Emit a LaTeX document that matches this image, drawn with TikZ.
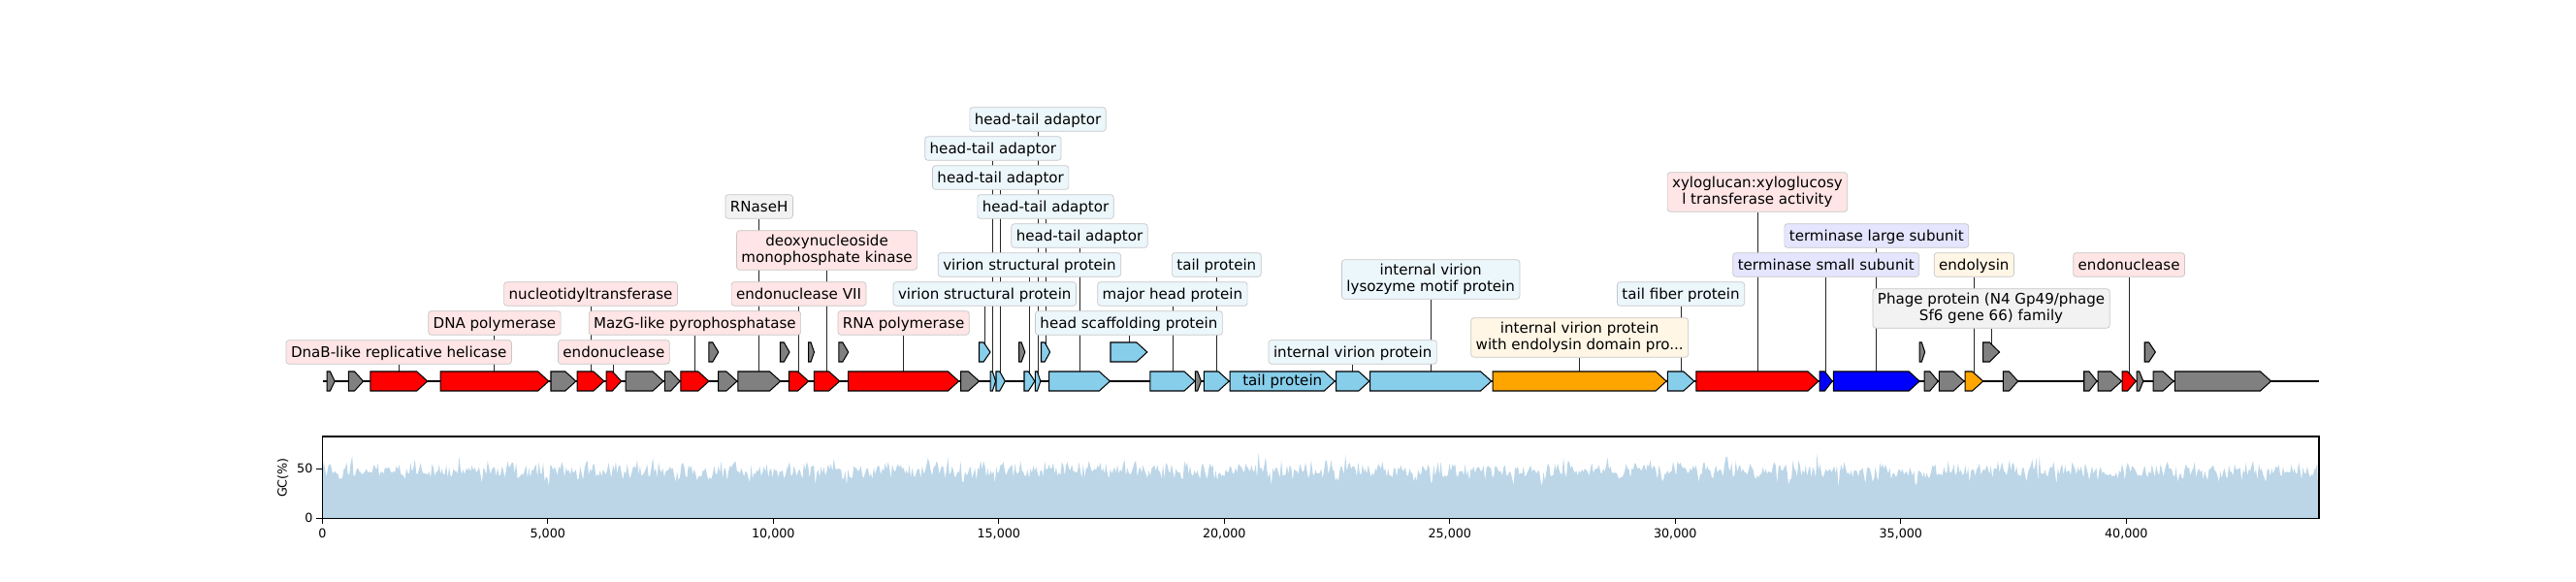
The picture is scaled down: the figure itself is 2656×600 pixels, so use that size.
\documentclass[tikz,border=0pt]{standalone}
\usepackage{fontspec}
\setmainfont{DejaVu Sans}
\usepackage{tikz}
\usetikzlibrary{backgrounds}

\definecolor{genrojo}{RGB}{255,0,0}
\definecolor{gengris}{RGB}{128,128,128}
\definecolor{gencielo}{RGB}{135,206,235}
\definecolor{gennaranja}{RGB}{255,165,0}
\definecolor{genazul}{RGB}{0,0,255}
\definecolor{gcrelleno}{RGB}{188,214,232}
\colorlet{rojizo}{genrojo!10}
\colorlet{grisaceo}{gengris!10}
\colorlet{celeste}{gencielo!16}
\colorlet{naranjado}{gennaranja!10}
\colorlet{azulado}{genazul!10}

\newcommand{\fuenteetiq}{\fontsize{10.9}{12}\selectfont}
\newcommand{\fuenteeje}{\fontsize{9.2}{11}\selectfont}

% gen: nombre, inicio, fin, altura, color
\newcommand{\gen}[5]{%
  \pgfmathsetmacro{\cabeza}{min(11,0.6*(#3-#2))}
  \filldraw[gene, fill=#5] (#2,#4-10) -- ({#3-\cabeza},#4-10) -- (#3,#4)
    -- ({#3-\cabeza},#4+10) -- (#2,#4+10) -- cycle;
  \coordinate (#1) at ({(#2+#3)/2},#4);
}

\begin{document}
\begin{tikzpicture}[x=0.254mm, y=0.254mm,
    gene/.style={draw=black, line width=0.75pt},
    pista/.style={line width=1.5pt},
    etiq/.style={draw=black!22, line width=0.5pt, rounded corners=2.2pt,
      font=\fuenteetiq, inner xsep=3.6pt, inner ysep=2.4pt,
      text height=10.6pt, text depth=2.4pt},
    etiq2/.style={draw=black!22, line width=0.5pt, rounded corners=2.2pt,
      font=\fuenteetiq, inner xsep=3.6pt, inner ysep=2.4pt,
      align=center, minimum height=29.3pt},
    union/.style={black!85, line width=0.6pt},
    eje/.style={line width=0.8pt}]
    \useasboundingbox (0,0) rectangle (2656,600);

    % Linea del genoma
    \draw[pista] (332.7,207) -- (2391,207);

    % Genes, nivel 0
    \gen{g1}{337.1}{345.2}{207}{gengris}
    \gen{g2}{359.4}{374.6}{207}{gengris}
    \gen{g3}{381.8}{440.7}{207}{genrojo}
    \gen{g4}{454.1}{565.7}{207}{genrojo}
    \gen{g5}{568.0}{593.8}{207}{gengris}
    \gen{g6}{595.2}{622.9}{207}{genrojo}
    \gen{g7}{625.1}{640.7}{207}{genrojo}
    \gen{g8}{645.2}{684.0}{207}{gengris}
    \gen{g9}{685.4}{701.0}{207}{gengris}
    \gen{g10}{701.9}{730.9}{207}{genrojo}
    \gen{g11}{740.7}{759.9}{207}{gengris}
    \gen{g12}{760.8}{804.6}{207}{gengris}
    \gen{g13}{813.5}{833.6}{207}{genrojo}
    \gen{g14}{839.4}{865.7}{207}{genrojo}
    \gen{g15}{874.7}{988.5}{207}{genrojo}
    \gen{g16}{990.7}{1009.5}{207}{gengris}
    \gen{g17}{1021.1}{1026.6}{207}{gencielo}
    \gen{g18}{1027.0}{1036.3}{207}{gencielo}
    \gen{g19}{1056.0}{1066.9}{207}{gencielo}
    \gen{g20}{1067.3}{1072.8}{207}{gencielo}
    \gen{g21}{1081.6}{1144.4}{207}{gencielo}
    \gen{g22}{1185.8}{1232.0}{207}{gencielo}
    \gen{g23}{1232.3}{1238.4}{207}{gengris}
    \gen{g24}{1241.4}{1267.2}{207}{gencielo}
    \gen{g25}{1268.2}{1376.3}{207}{gencielo}
    \gen{g26}{1377.5}{1411.9}{207}{gencielo}
    \gen{g27}{1412.7}{1537.6}{207}{gencielo}
    \gen{g28}{1539.2}{1718.1}{207}{gennaranja}
    \gen{g29}{1719.3}{1746.8}{207}{gencielo}
    \gen{g30}{1748.8}{1875.0}{207}{genrojo}
    \gen{g31}{1876.2}{1889.2}{207}{genazul}
    \gen{g32}{1890.4}{1979.2}{207}{genazul}
    \gen{g33}{1984.2}{1998.3}{207}{gengris}
    \gen{g34}{1999.3}{2025.1}{207}{gengris}
    \gen{g35}{2026.0}{2044.6}{207}{gennaranja}
    \gen{g36}{2065.3}{2080.7}{207}{gengris}
    \gen{g37}{2148.7}{2162.0}{207}{gengris}
    \gen{g38}{2163.0}{2187.5}{207}{gengris}
    \gen{g39}{2188.0}{2202.2}{207}{genrojo}
    \gen{g40}{2203.1}{2209.8}{207}{gengris}
    \gen{g41}{2220.1}{2241.1}{207}{gengris}
    \gen{g42}{2242.4}{2341.5}{207}{gengris}

    % Genes, nivel 1
    \gen{s1}{730.9}{740.7}{237}{gengris}
    \gen{s2}{804.5}{814.0}{237}{gengris}
    \gen{s3}{833.7}{839.5}{237}{gengris}
    \gen{s4}{864.9}{874.7}{237}{gengris}
    \gen{s5}{1009.5}{1021.0}{237}{gencielo}
    \gen{s6}{1050.7}{1056.8}{237}{gengris}
    \gen{s7}{1073.5}{1082.6}{237}{gencielo}
    \gen{s8}{1145.0}{1182.8}{237}{gencielo}
    \gen{s9}{1979.1}{1984.6}{237}{gengris}
    \gen{s10}{2044.6}{2061.5}{237}{gengris}
    \gen{s11}{2211.2}{2222.3}{237}{gengris}

    \node[font=\fuenteetiq] (lColaIn) at (g25) {tail protein};

    % Etiquetas
    \node[etiq, fill=rojizo] (lDnaB) at (g3 |- 0,237) {DnaB-like replicative helicase};
    \node[etiq, fill=rojizo] (lPolADN) at (g4 |- 0,267) {DNA polymerase};
    \node[etiq, fill=rojizo] (lEndo) at (g7 |- 0,237) {endonuclease};
    \node[etiq, fill=rojizo] (lNucl) at (g6 |- 0,297) {nucleotidyltransferase};
    \node[etiq, fill=rojizo] (lMazG) at (g10 |- 0,267) {MazG-like pyrophosphatase};
    \node[etiq, fill=rojizo] (lEndoVII) at (g13 |- 0,297) {endonuclease VII};
    \node[etiq2, fill=rojizo] (lDeoxi) at (g14 |- 0,342) {deoxynucleoside\\monophosphate kinase};
    \node[etiq, fill=grisaceo] (lRNasa) at (g12 |- 0,387) {RNaseH};
    \node[etiq, fill=rojizo] (lPolARN) at (g15 |- 0,267) {RNA polymerase};
    \node[etiq, fill=celeste] (lVir1) at (s5 |- 0,297) {virion structural protein};
    \node[etiq, fill=celeste] (lVir2) at (g19 |- 0,327) {virion structural protein};
    \node[etiq, fill=celeste] (lCab5) at (g21 |- 0,357) {head-tail adaptor};
    \node[etiq, fill=celeste] (lCab4) at (s7 |- 0,387) {head-tail adaptor};
    \node[etiq, fill=celeste] (lCab3) at (g18 |- 0,417) {head-tail adaptor};
    \node[etiq, fill=celeste] (lCab2) at (g17 |- 0,447) {head-tail adaptor};
    \node[etiq, fill=celeste] (lCab1) at (g20 |- 0,477) {head-tail adaptor};
    \node[etiq, fill=celeste] (lAndamio) at (s8 |- 0,267) {head scaffolding protein};
    \node[etiq, fill=celeste] (lCapsida) at (g22 |- 0,297) {major head protein};
    \node[etiq, fill=celeste] (lCola) at (g24 |- 0,327) {tail protein};
    \node[etiq, fill=celeste] (lInterna) at (g26 |- 0,237) {internal virion protein};
    \node[etiq2, fill=celeste] (lLisozima) at (g27 |- 0,312) {internal virion\\lysozyme motif protein};
    \node[etiq2, fill=naranjado] (lEndolDom) at (g28 |- 0,252) {internal virion protein\\with endolysin domain pro...};
    \node[etiq, fill=celeste] (lFibra) at (g29 |- 0,297) {tail fiber protein};
    \node[etiq2, fill=rojizo] (lXilo) at (g30 |- 0,402) {xyloglucan:xyloglucosy\\l transferase activity};
    \node[etiq, fill=azulado] (lTermP) at (g31 |- 0,327) {terminase small subunit};
    \node[etiq, fill=azulado] (lTermG) at (g32 |- 0,357) {terminase large subunit};
    \node[etiq, fill=naranjado] (lEndolisina) at (g35 |- 0,327) {endolysin};
    \node[etiq2, fill=grisaceo] (lFago) at (s10 |- 0,282) {Phage protein (N4 Gp49/phage\\Sf6 gene 66) family};
    \node[etiq, fill=rojizo] (lEndo2) at (g39 |- 0,327) {endonuclease};

    % Lineas de etiqueta (detras)
    \begin{scope}[on background layer]
      \foreach \g/\l in {g3/lDnaB, g4/lPolADN, g7/lEndo, g6/lNucl, g10/lMazG,
          g13/lEndoVII, g14/lDeoxi, g12/lRNasa, g15/lPolARN, s5/lVir1,
          g19/lVir2, g21/lCab5, s7/lCab4, g18/lCab3, g17/lCab2, g20/lCab1,
          s8/lAndamio, g22/lCapsida, g24/lCola, g26/lInterna, g27/lLisozima,
          g28/lEndolDom, g29/lFibra, g30/lXilo, g31/lTermP, g32/lTermG,
          g35/lEndolisina, s10/lFago, g39/lEndo2}
        \draw[union] (\g) -- (\l);
    \end{scope}

    % Contenido GC
    \pgfmathsetseed{11}
    \fill[gcrelleno] (332.3,65.7) \foreach \i in {0,...,1400} {
        -- ({332.3+1.4692*\i},{65.7+1.02*(48+5.5*rand+5.5*rand+15*rand*rand*rand)}) }
      -- (2391,65.7) -- cycle;
    \draw[eje] (332.3,65.7) rectangle (2391,150);

    % Marcas del eje
    \draw[eje] (332.3,65.7) -- (326.3,65.7);
    \draw[eje] (332.3,116.7) -- (326.3,116.7);
    \node[font=\fuenteeje, anchor=east, inner sep=0pt] (y0) at (322.7,65.7) {0};
    \node[font=\fuenteeje, anchor=east, inner sep=0pt] (y50) at (322.7,116.7) {50};
    \node[font=\fuenteeje, rotate=90] (ygc) at (291.7,107.5) {GC(\%)};
    \draw[eje] (332.3,65.7) -- (332.3,59.7);
    \node[font=\fuenteeje, anchor=base, inner sep=0pt] (x0) at (332.3,45.7) {0};
    \foreach \k in {1,...,8} {
      \pgfmathtruncatemacro{\m}{5*\k}
      \draw[eje] ({332.3+232.5*\k},65.7) -- ({332.3+232.5*\k},59.7);
      \node[font=\fuenteeje, anchor=base, inner sep=0pt] (x\k) at ({332.3+232.5*\k},45.7) {\m,000};
    }
\end{tikzpicture}
\end{document}
